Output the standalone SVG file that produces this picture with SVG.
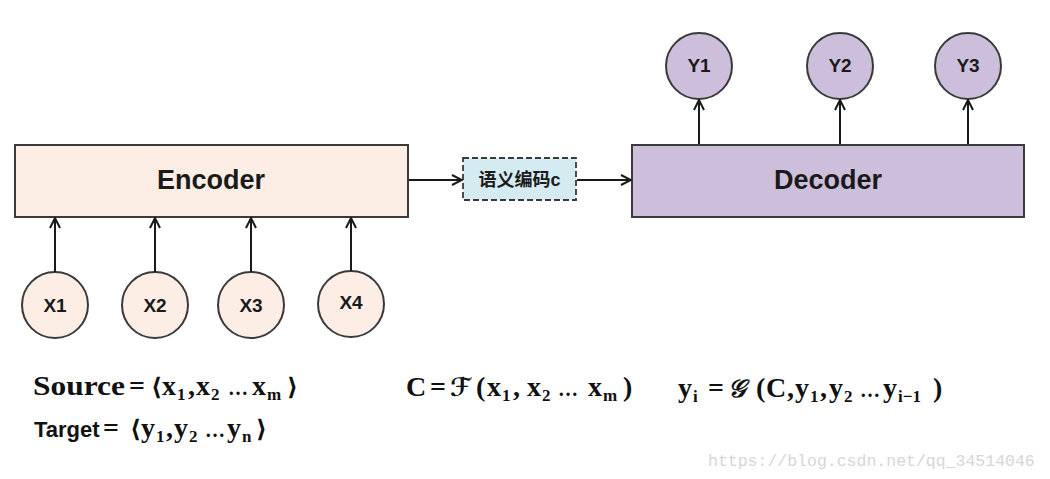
<svg xmlns="http://www.w3.org/2000/svg" width="1050" height="479" viewBox="0 0 1050 479">
<defs>
<style>
.box{stroke:#3a3a3a;stroke-width:2}
.enc{fill:#fdeee5}
.dec{fill:#cdbfdc}
.sem{fill:#d5ebf2;stroke:#3a3a3a;stroke-width:1.8;stroke-dasharray:6 3}
.lbl{font-family:"Liberation Sans","DejaVu Sans",sans-serif;font-weight:bold;fill:#1a1a1a;text-anchor:middle}
.big{font-size:27px}
.cir{font-size:19px}
.cjk{font-family:"Liberation Sans","Noto Sans CJK SC",sans-serif;font-size:18px}
.conn line{stroke:#1a1a1a;stroke-width:2;fill:none}
.m{font-family:"Liberation Serif","DejaVu Serif",serif;font-weight:bold;font-size:28px;fill:#111}
.s{font-size:17px}
.e{font-size:20px}
.a{font-size:24px}
.sy{font-family:"DejaVu Serif","DejaVu Sans",serif;font-weight:bold;font-style:italic;font-size:25px}
.wm{font-family:"Liberation Mono","DejaVu Sans Mono",monospace;font-size:16.5px;fill:#d6d6d6}
</style>
<marker id="ah" viewBox="0 0 12 12" refX="11" refY="6" markerWidth="12" markerHeight="12" markerUnits="userSpaceOnUse" orient="auto">
<path d="M1,1 L11,6 L1,11" fill="none" stroke="#1a1a1a" stroke-width="2"/>
</marker>
</defs>
<rect width="1050" height="479" fill="#ffffff"/>

<g id="encoder">
<rect class="box enc" x="15" y="145" width="393" height="72"/>
<text class="lbl big" x="211" y="189">Encoder</text>
</g>
<g id="decoder">
<rect class="box dec" x="632" y="145" width="392" height="72"/>
<text class="lbl big" x="828" y="189">Decoder</text>
</g>
<g id="semantic">
<rect class="sem" x="463" y="158" width="113" height="42"/>
<text class="lbl cjk" x="519.5" y="186">语义编码c</text>
</g>

<g id="x1"><circle class="box enc" cx="55" cy="305" r="33"/><text class="lbl cir" x="55" y="312">X1</text></g>
<g id="x2"><circle class="box enc" cx="155" cy="305" r="33"/><text class="lbl cir" x="155" y="312">X2</text></g>
<g id="x3"><circle class="box enc" cx="251" cy="305" r="33"/><text class="lbl cir" x="251" y="312">X3</text></g>
<g id="x4"><circle class="box enc" cx="351" cy="304" r="33"/><text class="lbl cir" x="351" y="309">X4</text></g>

<g id="y1"><circle class="box dec" cx="699" cy="66" r="33"/><text class="lbl cir" x="699" y="72">Y1</text></g>
<g id="y2"><circle class="box dec" cx="840" cy="66" r="33"/><text class="lbl cir" x="840" y="72">Y2</text></g>
<g id="y3"><circle class="box dec" cx="968" cy="66" r="33"/><text class="lbl cir" x="968" y="72">Y3</text></g>

<g class="conn" id="connectors">
<line x1="55" y1="272" x2="55" y2="218" marker-end="url(#ah)"/>
<line x1="155" y1="272" x2="155" y2="218" marker-end="url(#ah)"/>
<line x1="251" y1="272" x2="251" y2="218" marker-end="url(#ah)"/>
<line x1="351" y1="271" x2="351" y2="218" marker-end="url(#ah)"/>
<line x1="409" y1="180" x2="462" y2="180" marker-end="url(#ah)"/>
<line x1="577" y1="180" x2="631" y2="180" marker-end="url(#ah)"/>
<line x1="699" y1="144" x2="699" y2="100" marker-end="url(#ah)"/>
<line x1="840" y1="144" x2="840" y2="100" marker-end="url(#ah)"/>
<line x1="968" y1="144" x2="968" y2="100" marker-end="url(#ah)"/>
</g>

<g id="formulas">
<text class="m" y="395"><tspan x="33" textLength="92" lengthAdjust="spacingAndGlyphs">Source</tspan><tspan x="129">=</tspan><tspan class="a" x="151">⟨</tspan><tspan x="162">x</tspan><tspan class="s" x="177" y="400">1</tspan><tspan x="188" y="395">,</tspan><tspan x="196">x</tspan><tspan class="s" x="211" y="400">2</tspan><tspan class="e" x="228" y="395">…</tspan><tspan x="252">x</tspan><tspan class="s" x="267" y="400">m</tspan><tspan class="a" x="287" y="395">⟩</tspan></text>

<text class="m" y="437"><tspan x="34" style="font-family:'Liberation Sans','DejaVu Sans',sans-serif;font-size:22px">Target</tspan><tspan x="103">=</tspan><tspan class="a" x="130">⟨</tspan><tspan x="141">y</tspan><tspan class="s" x="156" y="442">1</tspan><tspan x="166" y="437">,</tspan><tspan x="174">y</tspan><tspan class="s" x="189" y="442">2</tspan><tspan class="e" x="205" y="437">…</tspan><tspan x="227">y</tspan><tspan class="s" x="242" y="442">n</tspan><tspan class="a" x="256" y="437">⟩</tspan></text>

<text class="m" y="396"><tspan x="406">C</tspan><tspan x="430">=</tspan><tspan class="sy" x="450">ℱ</tspan><tspan x="476">(</tspan><tspan x="487">x</tspan><tspan class="s" x="502" y="401">1</tspan><tspan x="513" y="396">,</tspan><tspan x="527">x</tspan><tspan class="s" x="542" y="401">2</tspan><tspan class="e" x="558" y="396">…</tspan><tspan x="588">x</tspan><tspan class="s" x="603" y="401">m</tspan><tspan x="623" y="396">)</tspan></text>

<text class="m" y="397"><tspan x="678">y</tspan><tspan class="s" x="693" y="402">i</tspan><tspan x="708" y="397">=</tspan><tspan class="sy" x="728">𝒢</tspan><tspan x="756">(</tspan><tspan x="766">C</tspan><tspan x="787">,</tspan><tspan x="795">y</tspan><tspan class="s" x="810" y="402">1</tspan><tspan x="820" y="397">,</tspan><tspan x="829">y</tspan><tspan class="s" x="844" y="402">2</tspan><tspan class="e" x="860" y="397">…</tspan><tspan x="883">y</tspan><tspan class="s" x="898" y="402">i−1</tspan><tspan x="933" y="397">)</tspan></text>
</g>

<text class="wm" x="708" y="466">https://blog.csdn.net/qq_34514046</text>
</svg>
